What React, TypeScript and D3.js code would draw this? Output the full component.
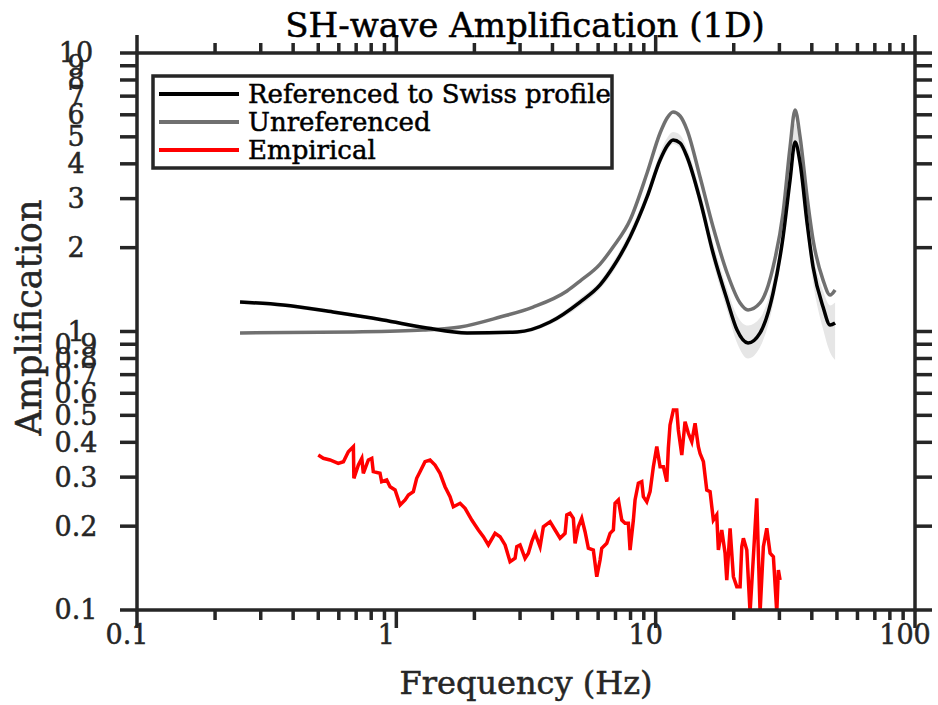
import React from 'react';
import * as d3 from 'd3';

// ---- data ----
const refFreq = [0.2496, 0.3658, 0.57, 0.889, 1.313, 1.874, 2.922, 3.916, 5.109, 6.104, 6.851, 7.967, 9.266, 10.4, 11.07, 11.67, 12.42, 13.22, 14.83, 16.65, 18.86, 20.6, 22.71, 25.27, 28.37, 30.99, 32.98, 34.48, 36.05, 38.36, 40.46, 44.21, 47.05, 49.19];
const refAmp = [1.276, 1.245, 1.175, 1.1, 1.029, 0.988, 0.996, 1.082, 1.276, 1.47, 1.704, 2.184, 3.041, 4.129, 4.636, 4.871, 4.752, 4.233, 2.967, 1.913, 1.298, 1.012, 0.909, 0.988, 1.375, 2.184, 3.5, 4.792, 4.027, 2.453, 1.704, 1.224, 1.055, 1.073];
const refHigh = [1.297, 1.266, 1.195, 1.118, 1.046, 1.005, 1.013, 1.104, 1.315, 1.52, 1.776, 2.295, 3.2, 4.38, 4.95, 5.2, 5.08, 4.52, 3.2, 2.08, 1.42, 1.14, 1.05, 1.12, 1.52, 2.41, 3.95, 5.6, 4.6, 2.75, 1.92, 1.4, 1.24, 1.27];
const refLow = [1.255, 1.225, 1.156, 1.082, 1.012, 0.972, 0.98, 1.06, 1.235, 1.42, 1.635, 2.096, 2.92, 3.96, 4.45, 4.71, 4.56, 4.03, 2.78, 1.77, 1.19, 0.91, 0.8, 0.88, 1.25, 2.02, 3.25, 4.45, 3.68, 2.22, 1.5, 1.02, 0.84, 0.79];

const unrefFreq = [0.2496, 0.681, 1.267, 1.761, 2.512, 3.367, 4.553, 5.109, 6.104, 6.851, 7.967, 9.266, 10.4, 11.07, 11.67, 12.42, 13.22, 14.83, 16.65, 18.86, 21.16, 22.71, 25.27, 28.37, 30.99, 32.98, 34.48, 36.05, 38.36, 40.46, 44.21, 47.05, 49.19];
const unrefAmp = [0.988, 0.996, 1.012, 1.038, 1.127, 1.224, 1.398, 1.518, 1.746, 2.011, 2.514, 3.708, 5.161, 5.843, 6.141, 5.939, 5.29, 3.587, 2.372, 1.622, 1.266, 1.195, 1.266, 1.704, 2.665, 4.597, 6.243, 4.994, 3.041, 2.131, 1.53, 1.352, 1.409];

const empFreq = [0.5, 0.523, 0.555, 0.597, 0.625, 0.653, 0.683, 0.686, 0.714, 0.736, 0.746, 0.78, 0.804, 0.815, 0.865, 0.878, 0.918, 0.946, 0.989, 1.034, 1.081, 1.113, 1.163, 1.198, 1.234, 1.29, 1.349, 1.41, 1.474, 1.541, 1.611, 1.659, 1.761, 1.841, 1.954, 2.072, 2.166, 2.264, 2.403, 2.512, 2.626, 2.745, 2.87, 2.914, 3.0, 3.136, 3.229, 3.328, 3.427, 3.583, 3.69, 3.916, 4.094, 4.279, 4.473, 4.542, 4.676, 4.815, 4.889, 5.034, 5.188, 5.342, 5.502, 5.75, 5.928, 6.104, 6.196, 6.477, 6.67, 6.869, 6.973, 7.181, 7.401, 7.621, 7.847, 7.967, 8.204, 8.327, 8.576, 8.838, 8.965, 9.24, 9.515, 9.797, 10.1, 10.4, 10.71, 11.04, 11.19, 11.36, 11.7, 12.06, 12.23, 12.61, 12.98, 13.37, 13.78, 14.19, 14.61, 14.83, 15.28, 15.74, 16.21, 16.69, 17.2, 17.45, 17.98, 18.52, 18.8, 19.36, 19.94, 20.55, 21.16, 21.48, 21.79, 22.46, 23.12, 23.81, 24.54, 25.27, 26.02, 26.82, 27.62, 28.44, 29.31, 29.73, 30.18];
const empAmp = [0.36, 0.3505, 0.3457, 0.3363, 0.3408, 0.37, 0.386, 0.297, 0.3316, 0.3505, 0.3097, 0.3457, 0.3505, 0.3138, 0.3097, 0.2888, 0.2929, 0.2772, 0.2697, 0.2382, 0.2483, 0.2588, 0.266, 0.297, 0.3138, 0.3408, 0.3457, 0.3316, 0.3097, 0.2772, 0.2551, 0.2349, 0.2416, 0.2318, 0.2104, 0.1938, 0.1833, 0.1712, 0.1885, 0.1833, 0.1712, 0.1491, 0.1533, 0.1688, 0.1712, 0.1533, 0.1598, 0.1759, 0.1885, 0.1688, 0.199, 0.2075, 0.1938, 0.181, 0.1885, 0.2194, 0.2225, 0.2135, 0.1736, 0.199, 0.2135, 0.191, 0.1666, 0.1642, 0.1317, 0.1512, 0.1666, 0.1736, 0.1885, 0.1938, 0.2416, 0.2483, 0.2104, 0.2048, 0.2048, 0.1642, 0.2104, 0.2483, 0.2851, 0.2888, 0.2551, 0.2448, 0.266, 0.327, 0.386, 0.327, 0.327, 0.2888, 0.3807, 0.4617, 0.5225, 0.5225, 0.4429, 0.36, 0.4745, 0.431, 0.402, 0.4683, 0.386, 0.3652, 0.3408, 0.2697, 0.266, 0.2104, 0.2194, 0.1642, 0.1938, 0.1598, 0.1281, 0.1965, 0.1317, 0.1213, 0.1213, 0.1688, 0.181, 0.1642, 0.098, 0.1553, 0.2518, 0.098, 0.1688, 0.1965, 0.1598, 0.1553, 0.098, 0.1392, 0.1281];

const xTicks = [0.1, 1, 10, 100];
const xTickLabels = ['0.1', '1', '10', '100'];
const yTicks = [0.1, 0.2, 0.3, 0.4, 0.5, 0.6, 0.7, 0.8, 0.9, 1, 2, 3, 4, 5, 6, 7, 8, 9, 10];
const yTickLabels = ['0.1', '0.2', '0.3', '0.4', '0.5', '0.6', '0.7', '0.8', '0.9', '1', '2', '3', '4', '5', '6', '7', '8', '9', '10'];

const seriesNames = ['Referenced to Swiss profile', 'Unreferenced', 'Empirical'];
const seriesColors = ['#000000', '#707070', '#ff0000'];

const FONT = '"DejaVu Serif", serif';
const AX = '#262626';

export default function App() {
  const left = 137, right = 915, top = 53, bottom = 610;
  const x = d3.scaleLog().domain([0.1, 100]).range([left, right]);
  const y = d3.scaleLog().domain([0.1, 10]).range([bottom, top]);

  const xMinor: number[] = [];
  [0.1, 1, 10].forEach((d) => { for (let k = 2; k <= 9; k++) xMinor.push(d * k); });

  const line = d3.line<[number, number]>().x((d) => x(d[0])).y((d) => y(d[1]));
  const smooth = d3.line<[number, number]>().x((d) => x(d[0])).y((d) => y(d[1])).curve(d3.curveMonotoneX);
  const area = d3.area<number>()
    .x((i) => x(refFreq[i]))
    .y0((i) => y(refLow[i]))
    .y1((i) => y(refHigh[i]))
    .curve(d3.curveMonotoneX);

  const refPts = refFreq.map((f, i) => [f, refAmp[i]] as [number, number]);
  const unrefPts = unrefFreq.map((f, i) => [f, unrefAmp[i]] as [number, number]);
  const empPts = empFreq.map((f, i) => [f, empAmp[i]] as [number, number]);

  const legX = 153, legY = 76, legW = 459, legH = 92;
  const txt = { stroke: 'currentColor', strokeWidth: 0.5 } as const;

  return (
    <svg width={938} height={705} style={{ position: 'absolute', left: 0, top: 0, background: '#fff' }} fontFamily={FONT}>
      <rect x={0} y={0} width={938} height={705} fill="#fff" />
      <defs>
        <clipPath id="plotclip">
          <rect x={left} y={top} width={right - left} height={bottom - top} />
        </clipPath>
      </defs>
      <g clipPath="url(#plotclip)">
        <path d={area(refFreq.map((_, i) => i)) || ''} fill="#e6e6e6" stroke="none" />
        <path d={smooth(unrefPts) || ''} fill="none" stroke={seriesColors[1]} strokeWidth={3.5} />
        <path d={smooth(refPts) || ''} fill="none" stroke={seriesColors[0]} strokeWidth={3.5} />
        <path d={line(empPts) || ''} fill="none" stroke={seriesColors[2]} strokeWidth={3.5} strokeLinejoin="miter" />
      </g>

      {/* axes box */}
      <rect x={left} y={top} width={right - left} height={bottom - top} fill="none" stroke={AX} strokeWidth={3.5} />

      {/* x ticks */}
      {xTicks.map((t) => (
        <g key={'xt' + t}>
          <line x1={x(t)} x2={x(t)} y1={bottom} y2={bottom + 18} stroke={AX} strokeWidth={3.5} />
          <line x1={x(t)} x2={x(t)} y1={top} y2={top - 18} stroke={AX} strokeWidth={3.5} />
        </g>
      ))}
      {xMinor.map((t) => (
        <g key={'xm' + t}>
          <line x1={x(t)} x2={x(t)} y1={bottom} y2={bottom + 10} stroke={AX} strokeWidth={3.5} />
          <line x1={x(t)} x2={x(t)} y1={top} y2={top - 10} stroke={AX} strokeWidth={3.5} />
        </g>
      ))}
      {xTicks.map((t, i) => (
        <text key={'xl' + t} x={x(t) - 10} y={644} textAnchor="middle" fontSize={27} fill={AX} color={AX} {...txt}>{xTickLabels[i]}</text>
      ))}

      {/* y ticks */}
      {yTicks.map((t) => (
        <g key={'yt' + t}>
          <line x1={left} x2={left - 17} y1={y(t)} y2={y(t)} stroke={AX} strokeWidth={3.5} />
          <line x1={right} x2={right + 17} y1={y(t)} y2={y(t)} stroke={AX} strokeWidth={3.5} />
        </g>
      ))}
      {yTicks.map((t, i) => (
        <text key={'yl' + t} x={76} y={y(t)} dy="0.35em" textAnchor="middle" fontSize={27} fill={AX} color={AX} {...txt}>{yTickLabels[i]}</text>
      ))}

      {/* titles */}
      <text x={525} y={37} textAnchor="middle" fontSize={34} fill="#000" color="#000" {...txt}>SH-wave Amplification (1D)</text>
      <text x={526} y={694} textAnchor="middle" fontSize={32} fill={AX} color={AX} {...txt}>Frequency (Hz)</text>
      <text transform={`translate(41, ${(top + bottom) / 2 - 14}) rotate(-90)`} textAnchor="middle" fontSize={35} fill={AX} color={AX} {...txt}>Amplification</text>

      {/* legend */}
      <rect x={legX} y={legY} width={legW} height={legH} fill="#fff" stroke={AX} strokeWidth={3.5} />
      {seriesNames.map((n, i) => (
        <g key={n}>
          <line x1={159} x2={239} y1={94 + i * 28} y2={94 + i * 28} stroke={seriesColors[i]} strokeWidth={4} />
          <text x={248} y={94 + i * 28} dy="0.35em" fontSize={26} fill="#000" color="#000" {...txt}>{n}</text>
        </g>
      ))}
    </svg>
  );
}
